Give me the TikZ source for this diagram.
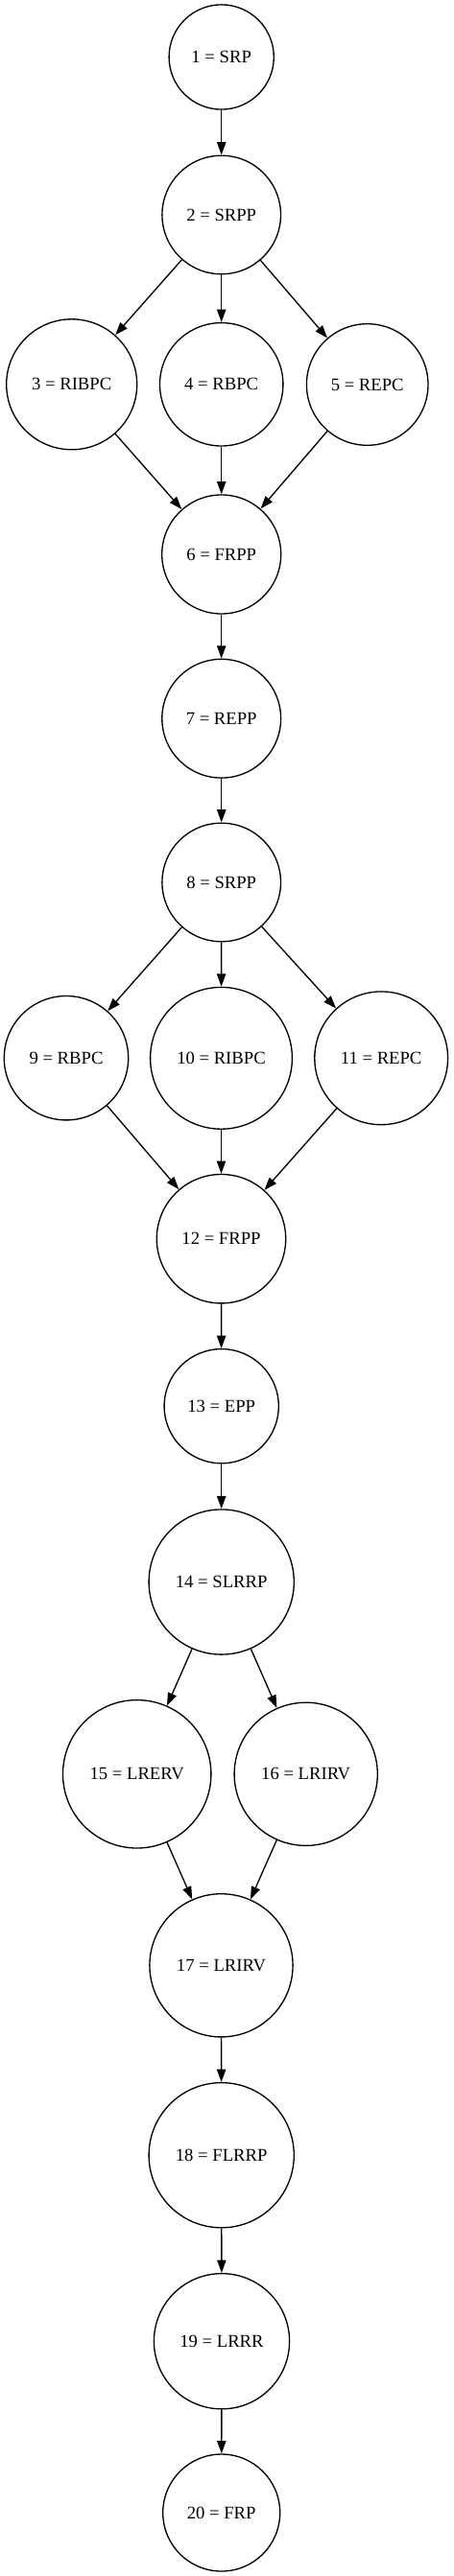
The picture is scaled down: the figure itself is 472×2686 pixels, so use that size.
\documentclass[tikz,border=0pt]{standalone}
\usepackage{fontspec}
\setmainfont{Liberation Serif}
\usetikzlibrary{arrows.meta}
\begin{document}
\begin{tikzpicture}[x=0.75pt,y=-0.75pt,
  nd/.style={circle,draw,line width=1pt,inner sep=0pt,minimum size=#1*1.5pt,
    font=\fontsize{14}{16.8}\selectfont},
  edge/.style={line width=1pt,-{Triangle[length=10pt,width=7pt]}}]
\useasboundingbox (0,0) rectangle (472,2686);
\node[nd=54.6] (n1) at (230.7,59.5) {1 = SRP};
\node[nd=61.8] (n2) at (230.7,224) {2 = SRPP};
\node[nd=68] (n3) at (74.7,400.8) {3 = RIBPC};
\node[nd=64.2] (n4) at (230.7,400.8) {4 = RBPC};
\node[nd=63.3] (n5) at (382.7,401) {5 = REPC};
\node[nd=62] (n6) at (230.7,578) {6 = FRPP};
\node[nd=61.9] (n7) at (230.7,749.2) {7 = REPP};
\node[nd=61.8] (n8) at (230.7,920) {8 = SRPP};
\node[nd=64.7] (n9) at (69,1103.2) {9 = RBPC};
\node[nd=73.9] (n10) at (230.5,1103.3) {10 = RIBPC};
\node[nd=69.4] (n11) at (397.2,1103.3) {11 = REPC};
\node[nd=67.2] (n12) at (230.5,1291.7) {12 = FRPP};
\node[nd=59.6] (n13) at (230.7,1466.2) {13 = EPP};
\node[nd=75.6] (n14) at (230.7,1649.5) {14 = SLRRP};
\node[nd=77.2] (n15) at (142.7,1849.8) {15 = LRERV};
\node[nd=74.6] (n16) at (318.7,1849.8) {16 = LRIRV};
\node[nd=74.6] (n17) at (230.5,2049.3) {17 = LRIRV};
\node[nd=75.6] (n18) at (230.7,2247.2) {18 = FLRRP};
\node[nd=70.6] (n19) at (231,2441.2) {19 = LRRR};
\node[nd=61] (n20) at (230.7,2620) {20 = FRP};
\draw[edge] (n1) -- (n2);
\draw[edge] (n2) -- (n3);
\draw[edge] (n2) -- (n4);
\draw[edge] (n2) -- (n5);
\draw[edge] (n3) -- (n6);
\draw[edge] (n4) -- (n6);
\draw[edge] (n5) -- (n6);
\draw[edge] (n6) -- (n7);
\draw[edge] (n7) -- (n8);
\draw[edge] (n8) -- (n9);
\draw[edge] (n8) -- (n10);
\draw[edge] (n8) -- (n11);
\draw[edge] (n9) -- (n12);
\draw[edge] (n10) -- (n12);
\draw[edge] (n11) -- (n12);
\draw[edge] (n12) -- (n13);
\draw[edge] (n13) -- (n14);
\draw[edge] (n14) -- (n15);
\draw[edge] (n14) -- (n16);
\draw[edge] (n15) -- (n17);
\draw[edge] (n16) -- (n17);
\draw[edge] (n17) -- (n18);
\draw[edge] (n18) -- (n19);
\draw[edge] (n19) -- (n20);
\end{tikzpicture}
\end{document}
